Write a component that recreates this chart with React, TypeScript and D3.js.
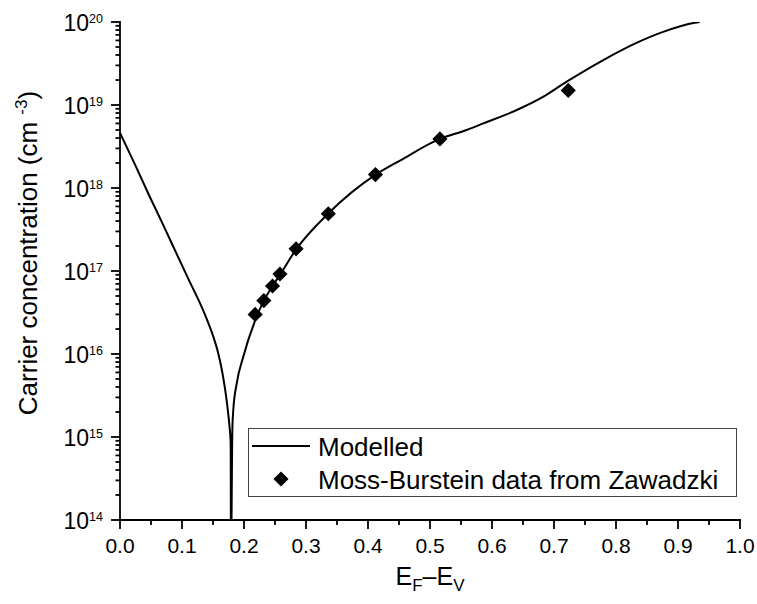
import React, { useEffect, useRef } from 'react';
import * as d3 from 'd3';

// modelled carrier concentration vs Fermi level position
const modelE = [0, 0.025, 0.048, 0.07, 0.091, 0.11, 0.129, 0.14, 0.15, 0.158, 0.164, 0.169, 0.173, 0.1762, 0.1785, 0.179, 0.1812, 0.1827, 0.1882, 0.1989, 0.2177, 0.232, 0.2456, 0.258, 0.284, 0.3355, 0.4124, 0.4516, 0.516, 0.559, 0.586, 0.64, 0.683, 0.7205, 0.7795, 0.833, 0.876, 0.927, 0.935];
const modelN = [4.6e18, 1.86e18, 7.85e17, 3.55e17, 1.63e17, 8.1e16, 4.1e16, 2.63e16, 1.66e16, 1.05e16, 6.6e15, 3.98e15, 2.4e15, 1.45e15, 8.5e14, 3e13, 1.2e15, 2.1e15, 4.4e15, 9.3e15, 2.5e16, 4.4e16, 6.5e16, 9.0e16, 1.82e17, 4.9e17, 1.45e18, 2.14e18, 3.9e18, 5.0e18, 6.0e18, 8.7e18, 1.26e19, 1.91e19, 3.48e19, 5.6e19, 7.6e19, 9.8e19, 1.0e20];

// Moss-Burstein data from Zawadzki
const zawE = [0.218, 0.232, 0.246, 0.258, 0.284, 0.336, 0.412, 0.516, 0.723];
const zawN = [3.0e16, 4.4e16, 6.6e16, 9.2e16, 1.85e17, 4.9e17, 1.45e18, 3.9e18, 1.5e19];

const xTicks = [0, 0.1, 0.2, 0.3, 0.4, 0.5, 0.6, 0.7, 0.8, 0.9, 1.0];
const yDecades = [14, 15, 16, 17, 18, 19, 20];

const width = 757;
const height = 604;
const margin = { top: 22, right: 17, bottom: 84, left: 120 };
const font = 'Arial, "Liberation Sans", sans-serif';

function Chart() {
	const ref = useRef<SVGSVGElement>(null);

	useEffect(() => {
		const svg = d3.select(ref.current);
		svg.selectAll('*').remove();

		const x = d3.scaleLinear().domain([0, 1]).range([margin.left, width - margin.right]);
		const y = d3.scaleLog().domain([1e14, 1e20]).range([height - margin.bottom, margin.top]);
		const x0 = x(0), x1 = x(1), y0 = y(1e14), y1 = y(1e20);

		svg.append('defs')
			.append('clipPath')
			.attr('id', 'plotclip')
			.append('rect')
			.attr('x', x0)
			.attr('y', y1)
			.attr('width', x1 - x0)
			.attr('height', y0 - y1);

		// modelled curve
		const line = d3
			.line<number>()
			.x(i => x(modelE[i]))
			.y(i => y(modelN[i]))
			.curve(d3.curveMonotoneX);
		svg.append('path')
			.attr('clip-path', 'url(#plotclip)')
			.attr('fill', 'none')
			.attr('stroke', '#000')
			.attr('stroke-width', 2)
			.attr('d', line(d3.range(modelE.length)));

		// data points
		const diamond = d3.symbol().type(d3.symbolSquare).size(115);
		svg.append('g')
			.selectAll('path')
			.data(d3.range(zawE.length))
			.enter()
			.append('path')
			.attr('d', diamond())
			.attr('fill', '#000')
			.attr('transform', i => `translate(${x(zawE[i])},${y(zawN[i])}) rotate(45)`);

		// axes
		const axes = svg.append('g').attr('stroke', '#000').attr('stroke-width', 1.8);
		axes.append('line').attr('x1', x0).attr('x2', x0).attr('y1', y1 - 1).attr('y2', y0);
		axes.append('line').attr('x1', x0 - 1).attr('x2', x1 + 1).attr('y1', y0).attr('y2', y0);

		// x ticks
		xTicks.forEach(t => {
			axes.append('line').attr('x1', x(t)).attr('x2', x(t)).attr('y1', y0).attr('y2', y0 + 9);
		});
		xTicks.slice(0, -1).forEach(t => {
			axes.append('line').attr('x1', x(t + 0.05)).attr('x2', x(t + 0.05)).attr('y1', y0).attr('y2', y0 + 5);
		});
		svg.append('g')
			.selectAll('text')
			.data(xTicks)
			.enter()
			.append('text')
			.attr('x', d => x(d))
			.attr('y', y0 + 33)
			.attr('text-anchor', 'middle')
			.style('font', `21px ${font}`)
			.text(d => d.toFixed(1));

		// y ticks
		yDecades.forEach(p => {
			axes.append('line').attr('x1', x0 - 9).attr('x2', x0).attr('y1', y(10 ** p)).attr('y2', y(10 ** p));
			if (p < 20) {
				for (let m = 2; m <= 9; m++) {
					axes.append('line').attr('x1', x0 - 4.5).attr('x2', x0).attr('y1', y(m * 10 ** p)).attr('y2', y(m * 10 ** p));
				}
			}
			const lab = svg.append('text')
				.attr('x', x0 - 17)
				.attr('y', y(10 ** p) + 8.5)
				.attr('text-anchor', 'end')
				.style('font', `23px ${font}`);
			lab.append('tspan').text('10');
			lab.append('tspan').attr('dy', -8).style('font-size', '12.5px').text(String(p));
		});

		// axis titles
		const xt = svg.append('text')
			.attr('x', (x0 + x1) / 2)
			.attr('y', 585)
			.attr('text-anchor', 'middle')
			.style('font', `25px ${font}`);
		xt.append('tspan').text('E');
		xt.append('tspan').attr('dy', 6).style('font-size', '17px').text('F');
		xt.append('tspan').attr('dy', -6).text('\u2013E');
		xt.append('tspan').attr('dy', 6).style('font-size', '17px').text('V');

		const yt = svg.append('text')
			.attr('transform', `translate(37,253) rotate(-90)`)
			.attr('text-anchor', 'middle')
			.style('font', `26px ${font}`);
		yt.append('tspan').text('Carrier concentration (cm ');
		yt.append('tspan').attr('dy', -10).style('font-size', '17px').text('-3');
		yt.append('tspan').attr('dy', 10).text(')');

		// legend
		const lg = svg.append('g');
		lg.append('rect')
			.attr('x', 248.5)
			.attr('y', 428.5)
			.attr('width', 488)
			.attr('height', 68)
			.attr('fill', '#fff')
			.attr('stroke', '#444')
			.attr('stroke-width', 1);
		lg.append('line')
			.attr('x1', 252)
			.attr('x2', 310)
			.attr('y1', 446)
			.attr('y2', 446)
			.attr('stroke', '#000')
			.attr('stroke-width', 2);
		lg.append('text').attr('x', 318).attr('y', 456).style('font', `26px ${font}`).text('Modelled');
		lg.append('path')
			.attr('d', diamond())
			.attr('fill', '#000')
			.attr('transform', 'translate(281,479) rotate(45)');
		lg.append('text').attr('x', 318).attr('y', 489).style('font', `26px ${font}`).text('Moss-Burstein data from Zawadzki');
	}, []);

	return <svg ref={ref} width={width} height={height} style={{ display: 'block' }} />;
}

export default function App() {
	return (
		<div style={{ position: 'absolute', left: 0, top: 0, background: '#fff' }}>
			<Chart />
		</div>
	);
}
